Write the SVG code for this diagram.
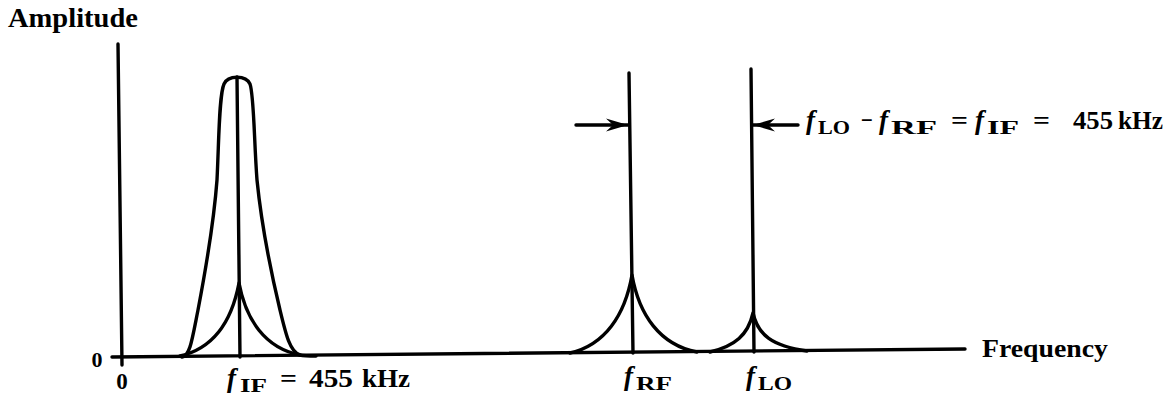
<svg xmlns="http://www.w3.org/2000/svg" width="1174" height="404" viewBox="0 0 1174 404">
<style>
.ln{fill:none;stroke:#000;stroke-width:3.4;stroke-linecap:round;stroke-linejoin:round}
.t{font-family:"Liberation Serif","Times New Roman",serif;font-weight:bold;fill:#000}
.f{font-style:italic;font-size:27px}
.sub{font-size:18px}
</style>
<defs>
<marker id="ah" markerUnits="userSpaceOnUse" viewBox="-24 -8 25 16" refX="0" refY="0" markerWidth="25" markerHeight="16" orient="auto">
<path d="M0,0 L-22,-6.5 L-15,0 L-22,6.5 Z" fill="#000"/>
</marker>
</defs>
<rect width="1174" height="404" fill="#fff"/>
<g id="axes">
<line class="ln" x1="118" y1="44" x2="122" y2="365"/>
<line class="ln" x1="112" y1="357" x2="965" y2="349"/>
<text class="t" x="8" y="27" font-size="27" textLength="130" lengthAdjust="spacingAndGlyphs">Amplitude</text>
<text class="t" x="982" y="357" font-size="26" textLength="126" lengthAdjust="spacingAndGlyphs">Frequency</text>
<text class="t" x="97" y="367" font-size="22" text-anchor="middle">0</text>
<text class="t" x="122" y="389" font-size="23" text-anchor="middle">0</text>
</g>
<g id="if-signal">
<path class="ln" d="M182,357 C190,356 192,340 198,310 C206,268 214,220 217,180 C219,140 219,95 224,84 C228,75 246,75 250,84 C254,95 254,140 257,180 C261,220 270,268 280,310 C286,335 290,352 300,355 C304,356 308,356 316,356"/>
<path class="ln" d="M180,356 C215,348 232,320 239,283 C246,320 265,348 300,355"/>
<line class="ln" x1="237" y1="77" x2="240" y2="357"/>
<text class="t" y="387" font-size="25"><tspan class="f" x="227">f</tspan><tspan class="sub" x="240" y="392" textLength="27" lengthAdjust="spacingAndGlyphs">IF</tspan><tspan x="280" y="387" textLength="17" lengthAdjust="spacingAndGlyphs">=</tspan><tspan x="309" textLength="44" lengthAdjust="spacingAndGlyphs">455</tspan><tspan x="362" textLength="48" lengthAdjust="spacingAndGlyphs">kHz</tspan></text>
</g>
<g id="rf-signal">
<path class="ln" d="M570,353 C605,345 625,315 632,275 C639,315 660,345 697,352"/>
<line class="ln" x1="629" y1="73" x2="633" y2="353"/>
<text class="t" y="385" font-size="25"><tspan class="f" x="624">f</tspan><tspan class="sub" x="636" y="390" textLength="36" lengthAdjust="spacingAndGlyphs">RF</tspan></text>
</g>
<g id="lo-signal">
<path class="ln" d="M710,352 C735,346 748,335 753,313 C758,335 772,346 807,351"/>
<line class="ln" x1="751" y1="69" x2="754" y2="352"/>
<text class="t" y="385" font-size="25"><tspan class="f" x="746">f</tspan><tspan class="sub" x="758" y="390" textLength="34" lengthAdjust="spacingAndGlyphs">LO</tspan></text>
</g>
<g id="connectors">
<line class="ln" x1="576" y1="125" x2="628" y2="125" marker-end="url(#ah)"/>
<line class="ln" x1="798" y1="125" x2="753" y2="125" marker-end="url(#ah)"/>
</g>
<g id="difference-label">
<text class="t" y="129" font-size="26"><tspan class="f" x="806">f</tspan><tspan class="sub" x="818" y="134" textLength="32" lengthAdjust="spacingAndGlyphs">LO</tspan><tspan x="861" y="129" textLength="12" lengthAdjust="spacingAndGlyphs">−</tspan><tspan class="f" x="879">f</tspan><tspan class="sub" x="891" y="134" textLength="46" lengthAdjust="spacingAndGlyphs">RF</tspan><tspan x="951" y="129" textLength="17" lengthAdjust="spacingAndGlyphs">=</tspan><tspan class="f" x="975">f</tspan><tspan class="sub" x="987" y="134" textLength="32" lengthAdjust="spacingAndGlyphs">IF</tspan><tspan x="1033" y="129" textLength="17" lengthAdjust="spacingAndGlyphs">=</tspan><tspan x="1073" textLength="40" lengthAdjust="spacingAndGlyphs">455</tspan><tspan x="1118" textLength="45" lengthAdjust="spacingAndGlyphs">kHz</tspan></text>
</g>
</svg>
